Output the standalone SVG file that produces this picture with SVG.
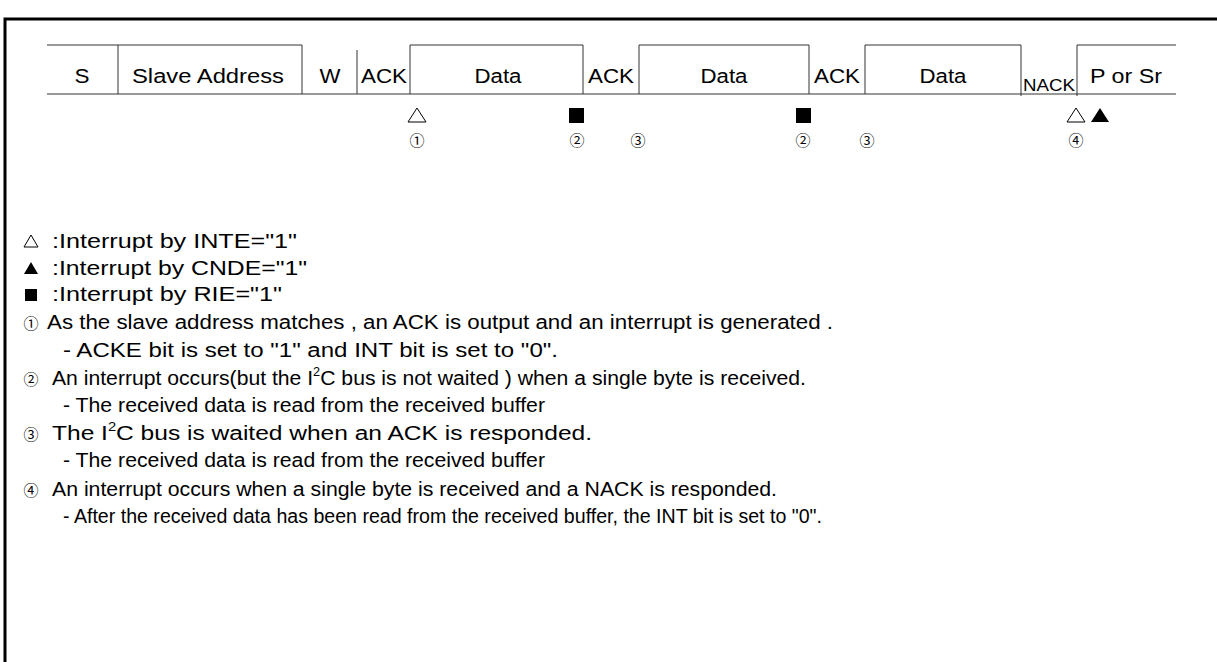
<svg xmlns="http://www.w3.org/2000/svg" width="1217" height="662" viewBox="0 0 1217 662">
<style>
.t{font-family:"Liberation Sans",Arial,sans-serif;font-size:20px;fill:#000}
.r{font-family:"Liberation Sans",Arial,sans-serif;font-size:20px;fill:#000;text-anchor:middle}
.n{font-family:"Noto Sans CJK JP","DejaVu Sans",sans-serif;font-size:15px;text-anchor:middle;fill:#000}
.ln{stroke:#333;stroke-width:1;fill:none}
.sup{font-size:12px}
</style>
<rect x="0" y="0" width="1217" height="662" fill="#fff"/>
<g id="frame"><path d="M5,662 V19 H1217" fill="none" stroke="#000" stroke-width="3"/></g>
<g id="connectors">
<path class="ln" d="M47,94 H1176 M47,45 H302 M410,45 H583 M639,45 H809 M865,45 H1021 M1077,45 H1176 M118,45 V94 M302,45 V94 M357,50 V94 M410,45 V94 M583,45 V94 M639,45 V94 M809,45 V94 M865,45 V94 M1021,45 V96 M1077,45 V96"/>
</g>
<g id="field-s"><text class="r" x="82" y="83" textLength="15" lengthAdjust="spacingAndGlyphs">S</text></g>
<g id="field-addr"><text class="r" x="208" y="83" textLength="152" lengthAdjust="spacingAndGlyphs">Slave Address</text></g>
<g id="field-w"><text class="r" x="330" y="83" textLength="21" lengthAdjust="spacingAndGlyphs">W</text></g>
<g id="field-ack1"><text class="r" x="384" y="83" textLength="46" lengthAdjust="spacingAndGlyphs">ACK</text></g>
<g id="field-data1"><text class="r" x="498" y="83" textLength="47" lengthAdjust="spacingAndGlyphs">Data</text></g>
<g id="field-ack2"><text class="r" x="611" y="83" textLength="46" lengthAdjust="spacingAndGlyphs">ACK</text></g>
<g id="field-data2"><text class="r" x="724" y="83" textLength="47" lengthAdjust="spacingAndGlyphs">Data</text></g>
<g id="field-ack3"><text class="r" x="837" y="83" textLength="46" lengthAdjust="spacingAndGlyphs">ACK</text></g>
<g id="field-data3"><text class="r" x="943" y="83" textLength="47" lengthAdjust="spacingAndGlyphs">Data</text></g>
<g id="field-nack"><text class="r" x="1049" y="91" style="font-size:16px" textLength="52" lengthAdjust="spacingAndGlyphs">NACK</text></g>
<g id="field-p"><text class="r" x="1126" y="83" textLength="72" lengthAdjust="spacingAndGlyphs">P or Sr</text></g>
<g id="markers">
<polygon points="408,122 426,122 417,108" fill="none" stroke="#000" stroke-width="1"/>
<rect x="569" y="108" width="15" height="15" fill="#000"/>
<rect x="796" y="108" width="15" height="15" fill="#000"/>
<polygon points="1067,122 1085,122 1076,108" fill="none" stroke="#000" stroke-width="1"/>
<polygon points="1091,122 1109,122 1100,108" fill="#000"/>
<text class="n" x="417" y="146">①</text>
<text class="n" x="577" y="146">②</text>
<text class="n" x="638" y="146">③</text>
<text class="n" x="803" y="146">②</text>
<text class="n" x="867" y="146">③</text>
<text class="n" x="1076" y="146">④</text>
</g>
<g id="legend">
<polygon points="24,247 38,247 31,235" fill="none" stroke="#000" stroke-width="1"/>
<text class="t" x="52" y="248" textLength="245" lengthAdjust="spacingAndGlyphs">:Interrupt by INTE="1"</text>
<polygon points="24,274 38,274 31,262" fill="#000"/>
<text class="t" x="52" y="275" textLength="255" lengthAdjust="spacingAndGlyphs">:Interrupt by CNDE="1"</text>
<rect x="25" y="289" width="12" height="12" fill="#000"/>
<text class="t" x="52" y="301" textLength="230" lengthAdjust="spacingAndGlyphs">:Interrupt by RIE="1"</text>
</g>
<g id="notes">
<text class="n" x="31" y="329">①</text>
<text class="t" x="47" y="329" textLength="786" lengthAdjust="spacingAndGlyphs">As the slave address matches , an ACK is output and an interrupt is generated .</text>
<text class="t" x="63" y="357" textLength="495" lengthAdjust="spacingAndGlyphs">- ACKE bit is set to "1" and INT bit is set to "0".</text>
<text class="n" x="31" y="385">②</text>
<text class="t" x="52" y="385" textLength="754" lengthAdjust="spacingAndGlyphs">An interrupt occurs(but the I<tspan class="sup" dy="-9">2</tspan><tspan dy="9">C bus is not waited ) when a single byte is received.</tspan></text>
<text class="t" x="63" y="412" textLength="482" lengthAdjust="spacingAndGlyphs">- The received data is read from the received buffer</text>
<text class="n" x="31" y="440">③</text>
<text class="t" x="52" y="440" textLength="540" lengthAdjust="spacingAndGlyphs">The I<tspan class="sup" dy="-9">2</tspan><tspan dy="9">C bus is waited when an ACK is responded.</tspan></text>
<text class="t" x="63" y="467" textLength="482" lengthAdjust="spacingAndGlyphs">- The received data is read from the received buffer</text>
<text class="n" x="31" y="496">④</text>
<text class="t" x="52" y="496" textLength="725" lengthAdjust="spacingAndGlyphs">An interrupt occurs when a single byte is received and a NACK is responded.</text>
<text class="t" x="63" y="523" textLength="759" lengthAdjust="spacingAndGlyphs">- After the received data has been read from the received buffer, the INT bit is set to "0".</text>
</g>
</svg>
